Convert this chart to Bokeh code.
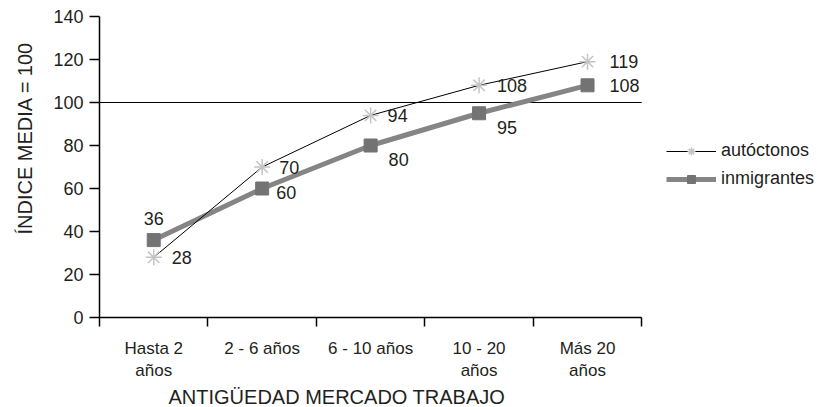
from bokeh.plotting import figure
from bokeh.models import (Range1d, FixedTicker, Title, Legend, LegendItem,
                          ColumnDataSource)
from bokeh.core.properties import value
from bokeh.embed import file_html
from bokeh.resources import INLINE

# ---- data ----
categories = ["Hasta 2\naños", "2 - 6 años", "6 - 10 años", "10 - 20\naños", "Más 20\naños"]
autoctonos = [28, 70, 94, 108, 119]
inmigrantes = [36, 60, 80, 95, 108]
y_ticks = [0, 20, 40, 60, 80, 100, 120, 140]
reference_level = 100

# ---- styles / layout ----
FONT = "Liberation Sans"
TXT = "#231f20"
W, H = 819, 407
FRAME_L, FRAME_R_AXIS, FRAME_T, FRAME_B = 98, 641, 16, 320
aut_dx = [18, 17, 17, 18, 22]
aut_dy = [0, 0, 0, 0, 0]
aut_align = ["left"] * 5
inm_dx = [0, 14, 18, 18, 22]
inm_dy = [-22, 4, 14, 14, 0]
inm_align = ["center", "left", "left", "left", "left"]

n = len(categories)
xs = [i + 0.5 for i in range(n)]
# frame extends to the right edge so the legend can sit beside the axis area
x_end = n * (W - FRAME_L) / (FRAME_R_AXIS - FRAME_L)

p = figure(width=W, height=H, x_range=Range1d(0, x_end),
           y_range=Range1d(0, 140), output_backend="svg", toolbar_location=None,
           min_border_left=FRAME_L, min_border_right=0, min_border_top=FRAME_T,
           min_border_bottom=H - FRAME_B)
p.grid.visible = False
p.outline_line_color = None
p.background_fill_color = "white"
p.border_fill_color = "white"

# axes
xa = p.xaxis[0]
xa.bounds = (0, n)
xa.ticker = FixedTicker(ticks=xs, minor_ticks=list(range(n + 1)))
xa.major_label_overrides = {x: c for x, c in zip(xs, categories)}
xa.major_tick_line_color = None
xa.minor_tick_out = 9
xa.minor_tick_in = 0
xa.minor_tick_line_color = "black"
xa.minor_tick_line_width = 1.5
xa.axis_line_width = 1.5
xa.major_label_standoff = 12
xa.major_label_text_font = FONT
xa.major_label_text_font_size = "17px"
xa.major_label_text_color = TXT

ya = p.yaxis[0]
ya.ticker = FixedTicker(ticks=y_ticks, minor_ticks=[])
ya.major_tick_out = 10
ya.major_tick_in = 0
ya.major_tick_line_width = 1.5
ya.axis_line_width = 1.5
ya.major_label_standoff = 6
ya.major_label_text_font = FONT
ya.major_label_text_font_size = "18px"
ya.major_label_text_color = TXT

# reference line at 100 across the category area
p.segment(x0=[0], x1=[n], y0=[reference_level], y1=[reference_level],
          line_color="black", line_width=1.2)

# inmigrantes (drawn first, underneath)
r_inm_line = p.line(xs, inmigrantes, line_color="#858585", line_width=5)
r_inm_mark = p.scatter(xs, inmigrantes, marker="square", size=13,
                       fill_color="#737373", line_color="#737373")

# autoctonos
r_aut_line = p.line(xs, autoctonos, line_color="black", line_width=1)
r_aut_mark = p.scatter(xs, autoctonos, marker="asterisk", size=16,
                       line_color="#c4c4c4", line_width=1.5)

# value labels
src_aut = ColumnDataSource(dict(x=xs, y=autoctonos, t=[str(v) for v in autoctonos],
                                dx=aut_dx, dy=aut_dy, al=aut_align))
src_inm = ColumnDataSource(dict(x=xs, y=inmigrantes, t=[str(v) for v in inmigrantes],
                                dx=inm_dx, dy=inm_dy, al=inm_align))
for src in (src_aut, src_inm):
    p.text(x="x", y="y", text="t", x_offset="dx", y_offset="dy", text_align="al",
           text_baseline="middle", text_font=value(FONT), text_font_size="18px",
           text_color=TXT, source=src)

# legend (inside the extended frame, right of the data area)
legend = Legend(items=[LegendItem(label="autóctonos", renderers=[r_aut_line, r_aut_mark]),
                       LegendItem(label="inmigrantes", renderers=[r_inm_line, r_inm_mark])],
                location=(567, 128), orientation="vertical",
                glyph_width=50, glyph_height=20, spacing=7, label_standoff=5,
                padding=0, margin=0, border_line_color=None,
                background_fill_alpha=0, label_text_font=FONT,
                label_text_font_size="18px", label_text_color=TXT)
p.add_layout(legend, "center")

# axis titles as side titles
p.add_layout(Title(text="ANTIGÜEDAD MERCADO TRABAJO", align="left", offset=69,
                   standoff=0, text_font=FONT, text_font_size="20px",
                   text_font_style="normal", text_color=TXT), "below")
p.add_layout(Title(text="ÍNDICE MEDIA = 100", align="left", offset=83,
                   standoff=26, vertical_align="top", text_font=FONT,
                   text_font_size="20px", text_font_style="normal",
                   text_color=TXT), "left")

open("out.html", "w").write(file_html(p, INLINE))
